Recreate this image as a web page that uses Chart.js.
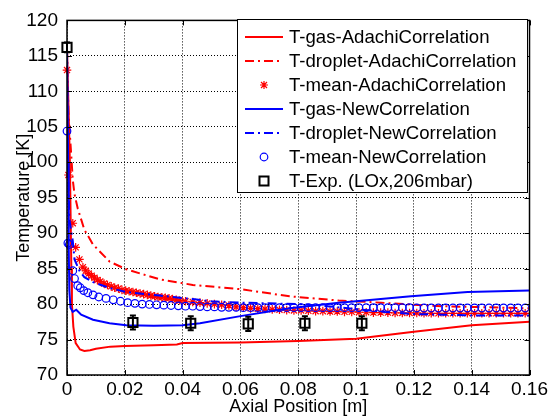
<!DOCTYPE html>
<html>
<head>
<meta charset="utf-8">
<script src="https://cdn.jsdelivr.net/npm/chart.js@4.4.1/dist/chart.umd.min.js"></script>
<style>
  body { margin: 0; background: #fff; }
  #chart { display: block; background: #fff; }
</style>
</head>
<body>
<canvas id="chart" width="551" height="418"></canvas>
<script>
// axis ticks
const axialTicks = [0, 0.02, 0.04, 0.06, 0.08, 0.1, 0.12, 0.14, 0.16];
const axialLabels = ["0", "0.02", "0.04", "0.06", "0.08", "0.1", "0.12", "0.14", "0.16"];
const tempTicks = [70, 75, 80, 85, 90, 95, 100, 105, 110, 115, 120];

// [axial position (m), temperature (K)]
const gasAdachi = [[0, 116], [0.001, 100], [0.0015, 85], [0.0017, 80], [0.0022, 76.8], [0.003, 74.5],
    [0.0045, 73.6], [0.006, 73.4], [0.008, 73.5], [0.01, 73.7], [0.015, 74.0], [0.02, 74.1], [0.03, 74.2],
    [0.038, 74.3], [0.04, 74.5], [0.06, 74.6], [0.08, 74.8], [0.1, 75.1], [0.12, 76.1], [0.14, 77.0], [0.16, 77.5]];

const dropletAdachi = [[0, 116], [0.0005, 107], [0.0014, 101.4], [0.002, 97.5], [0.0026, 95.5], [0.0037, 93.5],
    [0.006, 90.5], [0.009, 88.4], [0.0147, 86.0], [0.0205, 84.9], [0.032, 83.5], [0.0435, 82.7], [0.06, 82.1],
    [0.077, 81.1], [0.094, 80.5], [0.1087, 80.2], [0.12, 79.9], [0.13, 79.7], [0.14, 79.6], [0.16, 79.4]];

const meanAdachi = [[0, 113], [0.0005, 98.2], [0.002, 91.4], [0.003, 88.0], [0.0043, 86.3], [0.0055, 85.2],
    [0.0065, 84.7], [0.0075, 84.3], [0.0085, 84.0], [0.0095, 83.7], [0.0105, 83.4], [0.0115, 83.2],
    [0.0128, 82.9], [0.014, 82.7], [0.0153, 82.5], [0.0165, 82.3], [0.0178, 82.2], [0.019, 82.0],
    [0.0203, 81.9], [0.0215, 81.8], [0.0228, 81.7], [0.024, 81.6], [0.0253, 81.5], [0.0265, 81.4],
    [0.0278, 81.3], [0.029, 81.2], [0.0303, 81.1], [0.0315, 81.0], [0.0328, 80.95], [0.034, 80.9],
    [0.0353, 80.8], [0.0365, 80.7], [0.0378, 80.6], [0.039, 80.5], [0.041, 80.4], [0.0435, 80.3],
    [0.046, 80.2], [0.0485, 80.1], [0.051, 80.0], [0.0535, 79.9], [0.056, 79.8], [0.0585, 79.6],
    [0.061, 79.5], [0.0635, 79.4], [0.066, 79.35], [0.0685, 79.3], [0.071, 79.25], [0.0735, 79.2],
    [0.076, 79.15], [0.0785, 79.1], [0.081, 79.1], [0.0835, 79.05], [0.086, 79.0], [0.0885, 79.0],
    [0.091, 78.95], [0.0935, 78.95], [0.096, 78.9], [0.0985, 78.9], [0.101, 78.85], [0.1035, 78.85],
    [0.106, 78.8], [0.1085, 78.8], [0.111, 78.8], [0.1135, 78.75], [0.116, 78.75], [0.1185, 78.75],
    [0.121, 78.75], [0.1235, 78.7], [0.126, 78.7], [0.1285, 78.7], [0.131, 78.7], [0.1335, 78.7],
    [0.136, 78.7], [0.1385, 78.7], [0.141, 78.7], [0.1435, 78.7], [0.146, 78.7], [0.1485, 78.7],
    [0.151, 78.7], [0.1535, 78.7], [0.156, 78.7], [0.1585, 78.7]];

const gasNew = [[0, 116], [0.0004, 100], [0.0006, 88], [0.0008, 82], [0.0012, 79.5], [0.002, 78.9],
    [0.0032, 79.2], [0.0049, 78.5], [0.009, 77.8], [0.0147, 77.3], [0.0205, 77.0], [0.03, 76.95], [0.04, 77.0],
    [0.046, 77.3], [0.06, 78.3], [0.077, 79.4], [0.094, 80.2], [0.1, 80.4], [0.119, 81.1], [0.1386, 81.7], [0.16, 81.9]];

const dropletNew = [[0, 116], [0.0003, 100], [0.0008, 92], [0.002, 88.9], [0.0026, 86.3], [0.0043, 84.7],
    [0.006, 83.8], [0.009, 83.1], [0.0145, 82.3], [0.0205, 81.7], [0.032, 81.2], [0.0435, 80.7], [0.05, 80.4],
    [0.06, 80.2], [0.07, 80.1], [0.08, 80.0], [0.09, 79.7], [0.1, 79.3], [0.11, 78.9], [0.12, 78.6],
    [0.13, 78.5], [0.14, 78.4], [0.15, 78.4], [0.16, 78.4]];

const meanNew = [[0, 104.4], [0.0003, 88.6], [0.0008, 88.4], [0.002, 84.7], [0.0026, 83.6], [0.0037, 82.6],
    [0.0046, 82.3], [0.0058, 81.9], [0.0072, 81.6], [0.009, 81.3], [0.011, 81.0], [0.0135, 80.8],
    [0.016, 80.6], [0.0185, 80.4], [0.021, 80.2], [0.0235, 80.1], [0.026, 80.0], [0.0285, 79.95],
    [0.031, 79.9], [0.0335, 79.85], [0.036, 79.8], [0.0385, 79.75], [0.041, 79.7], [0.0435, 79.7],
    [0.046, 79.65], [0.0485, 79.6], [0.051, 79.6], [0.0535, 79.55], [0.056, 79.55], [0.0585, 79.55],
    [0.061, 79.5], [0.0635, 79.5], [0.066, 79.5], [0.0685, 79.5], [0.071, 79.5], [0.0735, 79.5],
    [0.076, 79.5], [0.0785, 79.5], [0.081, 79.5], [0.0835, 79.5], [0.086, 79.5], [0.0885, 79.5],
    [0.091, 79.5], [0.0935, 79.5], [0.096, 79.5], [0.0985, 79.5], [0.101, 79.5], [0.1035, 79.5],
    [0.106, 79.5], [0.1085, 79.5], [0.111, 79.5], [0.1135, 79.5], [0.116, 79.5], [0.1185, 79.5],
    [0.121, 79.45], [0.1235, 79.45], [0.126, 79.45], [0.1285, 79.45], [0.131, 79.45], [0.1335, 79.45],
    [0.136, 79.45], [0.1385, 79.45], [0.141, 79.45], [0.1435, 79.45], [0.146, 79.45], [0.1485, 79.45],
    [0.151, 79.45], [0.1535, 79.45], [0.156, 79.45], [0.1585, 79.45]];

const expX = [0, 0.0228, 0.0428, 0.0627, 0.0823, 0.102];
const expT = [116.2, 77.4, 77.3, 77.2, 77.3, 77.3];
const expErr = [0.7, 1.0, 1.0, 1.0, 1.0, 1.0];

const legendNames = ["T-gas-AdachiCorrelation", "T-droplet-AdachiCorrelation", "T-mean-AdachiCorrelation",
    "T-gas-NewCorrelation", "T-droplet-NewCorrelation", "T-mean-NewCorrelation", "T-Exp. (LOx,206mbar)"];

const FONT = "'Liberation Sans', Arial, Helvetica, sans-serif";
const RED = "#ff0000";
const BLUE = "#0000ff";
const DASHDOT = [9, 4, 2, 4];

const toXY = arr => arr.map(p => ({ x: p[0], y: p[1] }));

function lineSet(label, pts, color, dash) {
    return {
        label: label,
        data: toXY(pts),
        showLine: true,
        borderColor: color,
        borderWidth: 2,
        borderDash: dash || [],
        pointRadius: 0,
        fill: false,
        tension: 0
    };
}

function markerSet(label, pts, color, style, radius) {
    return {
        label: label,
        data: toXY(pts),
        showLine: false,
        pointStyle: style,
        pointRadius: radius,
        pointBorderColor: color,
        pointBackgroundColor: "rgba(0,0,0,0)",
        pointBorderWidth: 1.2,
        clip: false
    };
}

// index 0 is drawn on top, so the list runs from the last plotted series down
const datasets = [
    {
        label: legendNames[6],
        data: expX.map((x, i) => ({ x: x, y: expT[i] })),
        showLine: false,
        pointStyle: "rect",
        pointRadius: 6.5,
        pointBorderColor: "#000",
        pointBackgroundColor: "rgba(0,0,0,0)",
        pointBorderWidth: 2,
        clip: false
    },
    markerSet(legendNames[5], meanNew, BLUE, "circle", 3.8),
    lineSet(legendNames[4], dropletNew, BLUE, DASHDOT),
    lineSet(legendNames[3], gasNew, BLUE),
    markerSet(legendNames[2], meanAdachi, RED, "star", 4.3),
    lineSet(legendNames[1], dropletAdachi, RED, DASHDOT),
    lineSet(legendNames[0], gasAdachi, RED)
];

const framePlugin = {
    id: "frame",
    afterDatasetsDraw(chart) {
        // error bars on the experiment points
        const ctx = chart.ctx, xs = chart.scales.x, ys = chart.scales.y;
        ctx.save();
        ctx.strokeStyle = "#000";
        ctx.lineWidth = 2;
        expX.forEach((x, i) => {
            const px = xs.getPixelForValue(x);
            const top = ys.getPixelForValue(expT[i] + expErr[i]);
            const bot = ys.getPixelForValue(expT[i] - expErr[i]);
            ctx.beginPath();
            ctx.moveTo(px, top); ctx.lineTo(px, bot);
            ctx.moveTo(px - 3, top); ctx.lineTo(px + 3, top);
            ctx.moveTo(px - 3, bot); ctx.lineTo(px + 3, bot);
            ctx.stroke();
        });
        ctx.restore();
    },
    afterDraw(chart) {
        const ctx = chart.ctx, a = chart.chartArea;
        const xs = chart.scales.x, ys = chart.scales.y;
        ctx.save();
        ctx.strokeStyle = "#000";
        ctx.lineWidth = 1.5;
        ctx.strokeRect(a.left, a.top, a.right - a.left, a.bottom - a.top);
        // inner tick marks on all four sides
        ctx.lineWidth = 1;
        ctx.beginPath();
        axialTicks.forEach(v => {
            const px = Math.round(xs.getPixelForValue(v)) + 0.5;
            ctx.moveTo(px, a.bottom); ctx.lineTo(px, a.bottom - 5);
            ctx.moveTo(px, a.top); ctx.lineTo(px, a.top + 5);
        });
        tempTicks.forEach(v => {
            const py = Math.round(ys.getPixelForValue(v)) + 0.5;
            ctx.moveTo(a.left, py); ctx.lineTo(a.left + 5, py);
            ctx.moveTo(a.right, py); ctx.lineTo(a.right - 5, py);
        });
        ctx.stroke();

        // legend box
        const bx = 237.5, by = 19.5, bw = 290, bh = 173;
        ctx.fillStyle = "#fff";
        ctx.fillRect(bx, by, bw, bh);
        ctx.lineWidth = 1;
        ctx.strokeRect(bx, by, bw, bh);
        ctx.font = "18.6px " + FONT;
        ctx.textBaseline = "middle";
        const rowY = [37, 61, 85, 109, 133, 157, 181];
        const x0 = 245, x1 = 283, xm = 264;
        legendNames.forEach((name, i) => {
            const y = rowY[i];
            ctx.save();
            if (i === 0 || i === 1 || i === 3 || i === 4) {
                ctx.strokeStyle = i < 3 ? RED : BLUE;
                ctx.lineWidth = 2;
                ctx.setLineDash(i === 1 || i === 4 ? DASHDOT : []);
                ctx.beginPath(); ctx.moveTo(x0, y); ctx.lineTo(x1, y); ctx.stroke();
            } else if (i === 2) {
                ctx.strokeStyle = RED; ctx.lineWidth = 1.2;
                ctx.beginPath();
                ctx.moveTo(xm - 4, y); ctx.lineTo(xm + 4, y);
                ctx.moveTo(xm, y - 4); ctx.lineTo(xm, y + 4);
                ctx.moveTo(xm - 3, y - 3); ctx.lineTo(xm + 3, y + 3);
                ctx.moveTo(xm - 3, y + 3); ctx.lineTo(xm + 3, y - 3);
                ctx.stroke();
            } else if (i === 5) {
                ctx.strokeStyle = BLUE; ctx.lineWidth = 1.2;
                ctx.beginPath(); ctx.arc(xm, y, 3.8, 0, Math.PI * 2); ctx.stroke();
            } else {
                ctx.strokeStyle = "#000"; ctx.lineWidth = 2;
                ctx.strokeRect(xm - 4.5, y - 4.5, 9, 9);
            }
            ctx.restore();
            ctx.fillStyle = "#000";
            ctx.fillText(name, 289, y + 1);
        });
        ctx.restore();
    }
};

new Chart(document.getElementById("chart"), {
    type: "scatter",
    data: { datasets: datasets },
    plugins: [framePlugin],
    options: {
        responsive: false,
        animation: false,
        events: [],
        layout: { padding: { left: 0, top: 15, right: 20, bottom: 0 } },
        plugins: { legend: { display: false }, tooltip: { enabled: false } },
        scales: {
            x: {
                type: "linear",
                min: 0,
                max: 0.16,
                afterBuildTicks: s => { s.ticks = axialTicks.map(v => ({ value: v })); },
                afterFit: s => { s.height = 43; },
                ticks: {
                    color: "#000",
                    font: { family: FONT, size: 19 },
                    padding: 3,
                    maxRotation: 0,
                    autoSkip: false,
                    callback: (v, i) => axialLabels[i]
                },
                grid: { color: "#000", lineWidth: 1, drawTicks: false },
                border: { display: false, dash: [1, 2] },
                title: {
                    display: true,
                    text: "Axial Position [m]",
                    color: "#000",
                    font: { family: FONT, size: 18 },
                    padding: { top: 0, bottom: 0 }
                }
            },
            y: {
                type: "linear",
                min: 70,
                max: 120,
                afterBuildTicks: s => { s.ticks = tempTicks.map(v => ({ value: v })); },
                afterFit: s => { s.width = 67; },
                ticks: {
                    color: "#000",
                    font: { family: FONT, size: 19 },
                    padding: 9,
                    autoSkip: false
                },
                grid: { color: "#000", lineWidth: 1, drawTicks: false },
                border: { display: false, dash: [1, 2] },
                title: {
                    display: true,
                    text: "Temperature [K]",
                    color: "#000",
                    font: { family: FONT, size: 18 },
                    padding: { top: 13, bottom: 0 }
                }
            }
        }
    }
});
</script>
</body>
</html>
